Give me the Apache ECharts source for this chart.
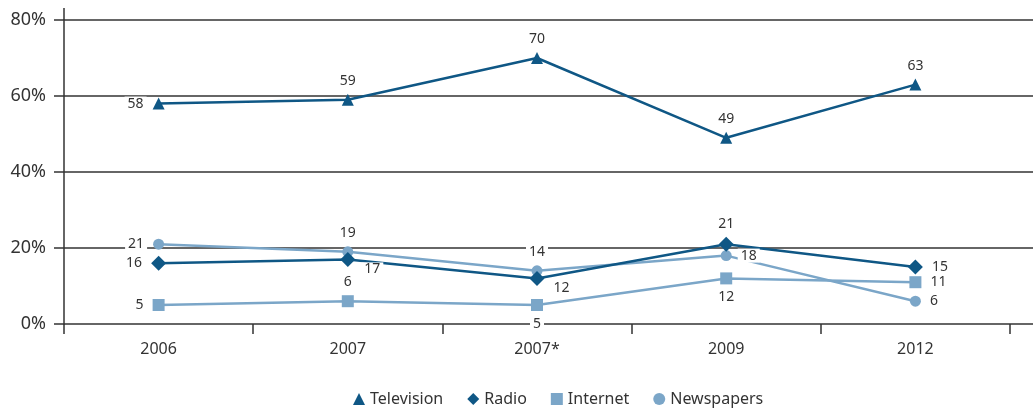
<!DOCTYPE html>
<html lang="en">
<head>
    <meta charset="UTF-8">
    <title>Media</title>
    <style>
        html, body { margin: 0; padding: 0; background: #fff; }
    </style>
</head>
<body>
    <div id="main" style="width: 1033px;height:409px;"></div>
    <script src="https://cdn.jsdelivr.net/npm/echarts@6/dist/echarts.min.js"></script>
    <script>

var years = ['2006', '2007', '2007*', '2009', '2012'];
var yTicks = [0, 20, 40, 60, 80];
var television = [58, 59, 70, 49, 63];
var radio = [16, 17, 12, 21, 15];
var internet = [5, 6, 5, 12, 11];
var newspapers = [21, 19, 14, 18, 6];

var dark = '#0f5785';
var light = '#7ba6c8';
var font = '"Noto Sans", sans-serif';

// where each value label sits, point by point
var tvPos = ['left', 'top', 'top', 'top', 'top'];
var radioPos = ['left', 'bottomRight', 'bottomRight', 'top', 'right'];
var netPos = ['left', 'top', 'bottom', 'bottom', 'right'];
var paperPos = ['left', 'top', 'top', 'right', 'right'];

function withLabels(values, pos) {
    return values.map(function (v, i) {
        var lab = { position: pos[i] };
        if (pos[i] === 'bottomRight') {
            lab = { position: 'right', offset: [0, 10] };
        }
        return { value: v, label: lab };
    });
}

function lineSeries(name, values, pos, color, symbol, size) {
    return {
        name: name,
        type: 'line',
        xAxisIndex: 1,
        yAxisIndex: 1,
        data: withLabels(values, pos),
        symbol: symbol,
        symbolSize: size,
        lineStyle: { color: color, width: 2.5 },
        itemStyle: { color: color },
        label: {
            show: true,
            color: '#333',
            fontFamily: font,
            fontSize: 14,
            distance: 6,
            backgroundColor: '#fff',
            padding: [0, 3]
        },
        emphasis: { disabled: true }
    };
}

var option = {
    animation: false,
    grid: [
        { left: 64, right: 0, top: 20, bottom: 85 },
        { left: 64, right: 23, top: 20, bottom: 85 }
    ],
    xAxis: [
        { gridIndex: 0, type: 'value', show: false, min: 0, max: 1 },
        {
            gridIndex: 1,
            type: 'category',
            data: years,
            boundaryGap: true,
            axisLine: { show: false },
            axisTick: { show: true, length: 10, lineStyle: { color: '#333', width: 1.5 } },
            axisLabel: { color: '#333', fontFamily: font, fontSize: 16, margin: 17 }
        }
    ],
    yAxis: [
        {
            gridIndex: 0,
            type: 'value',
            min: yTicks[0],
            max: yTicks[yTicks.length - 1],
            interval: 20,
            axisLine: { show: true, lineStyle: { color: '#333', width: 1.5 } },
            axisTick: { show: true, length: 10, lineStyle: { color: '#333', width: 1.5 } },
            splitLine: { show: true, lineStyle: { color: '#333', width: 1.5 } },
            axisLabel: { formatter: '{value}%', color: '#333', fontFamily: font, fontSize: 18, margin: 18 }
        },
        { gridIndex: 1, type: 'value', min: 0, max: 80, show: false }
    ],
    legend: {
        bottom: -3,
        left: 348,
        itemWidth: 12,
        itemHeight: 12,
        itemGap: 24,
        textStyle: { color: '#333', fontFamily: font, fontSize: 16 },
        data: [
            { name: 'Television', icon: 'triangle' },
            { name: 'Radio', icon: 'diamond' },
            { name: 'Internet', icon: 'rect' },
            { name: 'Newspapers', icon: 'circle' }
        ]
    },
    graphic: [{
        type: 'line',
        shape: { x1: 64, y1: 8, x2: 64, y2: 20 },
        style: { stroke: '#333', lineWidth: 1.5 }
    }],
    series: [
        lineSeries('Newspapers', newspapers, paperPos, light, 'circle', 11),
        lineSeries('Internet', internet, netPos, light, 'rect', 12),
        lineSeries('Radio', radio, radioPos, dark, 'diamond', 15),
        lineSeries('Television', television, tvPos, dark, 'triangle', 12)
    ]
};

var myChart = echarts.init(document.getElementById('main'));
myChart.setOption(option);

    </script>
</body>
</html>
